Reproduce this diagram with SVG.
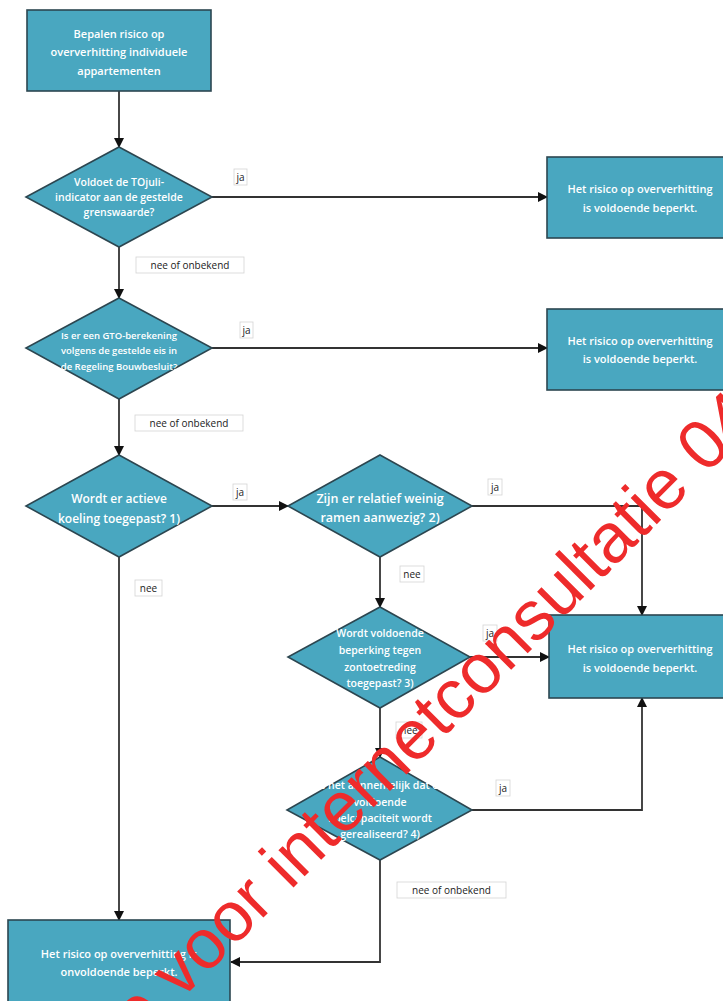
<svg xmlns="http://www.w3.org/2000/svg" width="723" height="1001" viewBox="0 0 723 1001">
<defs>
<marker id="ah" markerWidth="10" markerHeight="10" refX="9" refY="5" orient="auto" markerUnits="userSpaceOnUse">
<path d="M0,0 L10,5 L0,10 Z" fill="#111"/>
</marker>
<style>
.n{fill:#49a7c0;stroke:#2c4650;stroke-width:1.6}
.t{fill:#fff;font-family:"Open Sans","DejaVu Sans",sans-serif;font-weight:600;text-anchor:middle;dominant-baseline:central}
.s{font-size:11px}
.d{font-size:10.5px}
.e{font-size:9.5px}
.c{fill:none;stroke:#333;stroke-width:1.8;marker-end:url(#ah)}
.lb{fill:#fff;stroke:#d4d4d4;stroke-width:0.8}
.lt{fill:#222;font-family:"Open Sans","DejaVu Sans",sans-serif;font-size:10px;text-anchor:middle;dominant-baseline:central}
.wm{fill:#ee2b2b;font-family:"Liberation Sans",Arial,sans-serif;font-size:70px}
</style>
</defs>
<rect width="723" height="1001" fill="#fff"/>
<g id="connectors">
<path class="c" d="M119,91 V147"/>
<path class="c" d="M212,197 H547"/>
<path class="c" d="M119,247 V298"/>
<path class="c" d="M212,348 H547"/>
<path class="c" d="M119,399 V455"/>
<path class="c" d="M212,506 H288"/>
<path class="c" d="M119,557 V920"/>
<path class="c" d="M472,506 H642 V615"/>
<path class="c" d="M380,557 V607"/>
<path class="c" d="M470,657 H549"/>
<path class="c" d="M380,708 V757"/>
<path class="c" d="M472,810 H642 V698"/>
<path class="c" d="M380,860 V962 H231"/>
</g>
<g id="labels">
<rect class="lb" x="234" y="169" width="13" height="16"/><text class="lt" x="240.5" y="177">ja</text>
<rect class="lb" x="136" y="257" width="108" height="16"/><text class="lt" x="190" y="265">nee of onbekend</text>
<rect class="lb" x="240" y="322" width="13" height="16"/><text class="lt" x="246.5" y="330">ja</text>
<rect class="lb" x="135" y="415" width="108" height="16"/><text class="lt" x="189" y="423">nee of onbekend</text>
<rect class="lb" x="233" y="484" width="14" height="16"/><text class="lt" x="240" y="492">ja</text>
<rect class="lb" x="135" y="580" width="27" height="16"/><text class="lt" x="148.5" y="588">nee</text>
<rect class="lb" x="488" y="479" width="14" height="16"/><text class="lt" x="495" y="487">ja</text>
<rect class="lb" x="400" y="566" width="24" height="16"/><text class="lt" x="412" y="574">nee</text>
<rect class="lb" x="483" y="625" width="14" height="16"/><text class="lt" x="490" y="633">ja</text>
<rect class="lb" x="396" y="722" width="26" height="16"/><text class="lt" x="409" y="730">nee</text>
<rect class="lb" x="496" y="780" width="14" height="16"/><text class="lt" x="503" y="788">ja</text>
<rect class="lb" x="397" y="882" width="109" height="16"/><text class="lt" x="451.5" y="890">nee of onbekend</text>
</g>
<g id="start">
<rect class="n" x="27" y="10" width="184" height="81"/>
<text class="t s" x="119" y="33">Bepalen risico op</text>
<text class="t s" x="119" y="51">oververhitting individuele</text>
<text class="t s" x="119" y="70">appartementen</text>
</g>
<g id="q1">
<polygon class="n" points="119,147 212,197 119,247 26,197"/>
<text class="t d" x="119" y="182">Voldoet de TOjuli-</text>
<text class="t d" x="119" y="197">indicator aan de gestelde</text>
<text class="t d" x="119" y="212">grenswaarde?</text>
</g>
<g id="r1">
<rect class="n" x="547" y="157" width="190" height="81"/>
<text class="t s" x="640" y="188">Het risico op oververhitting</text>
<text class="t s" x="640" y="207">is voldoende beperkt.</text>
</g>
<g id="q2">
<polygon class="n" points="119,298 212,348 119,399 26,348"/>
<text class="t e" x="119" y="335">Is er een GTO-berekening</text>
<text class="t e" x="119" y="350">volgens de gestelde eis in</text>
<text class="t e" x="119" y="366">de Regeling Bouwbesluit?</text>
</g>
<g id="r2">
<rect class="n" x="547" y="309" width="190" height="81"/>
<text class="t s" x="640" y="340">Het risico op oververhitting</text>
<text class="t s" x="640" y="358">is voldoende beperkt.</text>
</g>
<g id="q3">
<polygon class="n" points="119,455 212,506 119,557 26,506"/>
<text class="t" style="font-size:12px" x="119" y="498">Wordt er actieve</text>
<text class="t" style="font-size:12px" x="119" y="518">koeling toegepast? 1)</text>
</g>
<g id="q4">
<polygon class="n" points="380,455 472,506 380,557 288,506"/>
<text class="t" style="font-size:12.5px" x="380" y="498">Zijn er relatief weinig</text>
<text class="t" style="font-size:12.5px" x="380" y="517">ramen aanwezig? 2)</text>
</g>
<g id="q5">
<polygon class="n" points="380,607 470,657 380,708 288,657"/>
<text class="t d" x="380" y="633">Wordt voldoende</text>
<text class="t d" x="380" y="650">beperking tegen</text>
<text class="t d" x="380" y="667">zontoetreding</text>
<text class="t d" x="380" y="683">toegepast? 3)</text>
</g>
<g id="r3">
<rect class="n" x="549" y="615" width="190" height="83"/>
<text class="t s" x="640" y="648">Het risico op oververhitting</text>
<text class="t s" x="640" y="667">is voldoende beperkt.</text>
</g>
<g id="q6">
<polygon class="n" points="380,757 472,810 380,860 287,810"/>
<text class="t d" x="380" y="785">Is het aannemelijk dat er</text>
<text class="t d" x="380" y="802">voldoende</text>
<text class="t d" x="380" y="818">koelcapaciteit  wordt</text>
<text class="t d" x="380" y="834">gerealiseerd? 4)</text>
</g>
<g id="r4">
<rect class="n" x="8" y="920" width="222" height="95"/>
<text class="t s" x="119" y="953">Het risico op oververhitting is</text>
<text class="t s" x="119" y="971">onvoldoende beperkt.</text>
</g>
<text class="wm" transform="translate(139,1042) rotate(-45)">e voor internetconsultatie 04</text>
</svg>
